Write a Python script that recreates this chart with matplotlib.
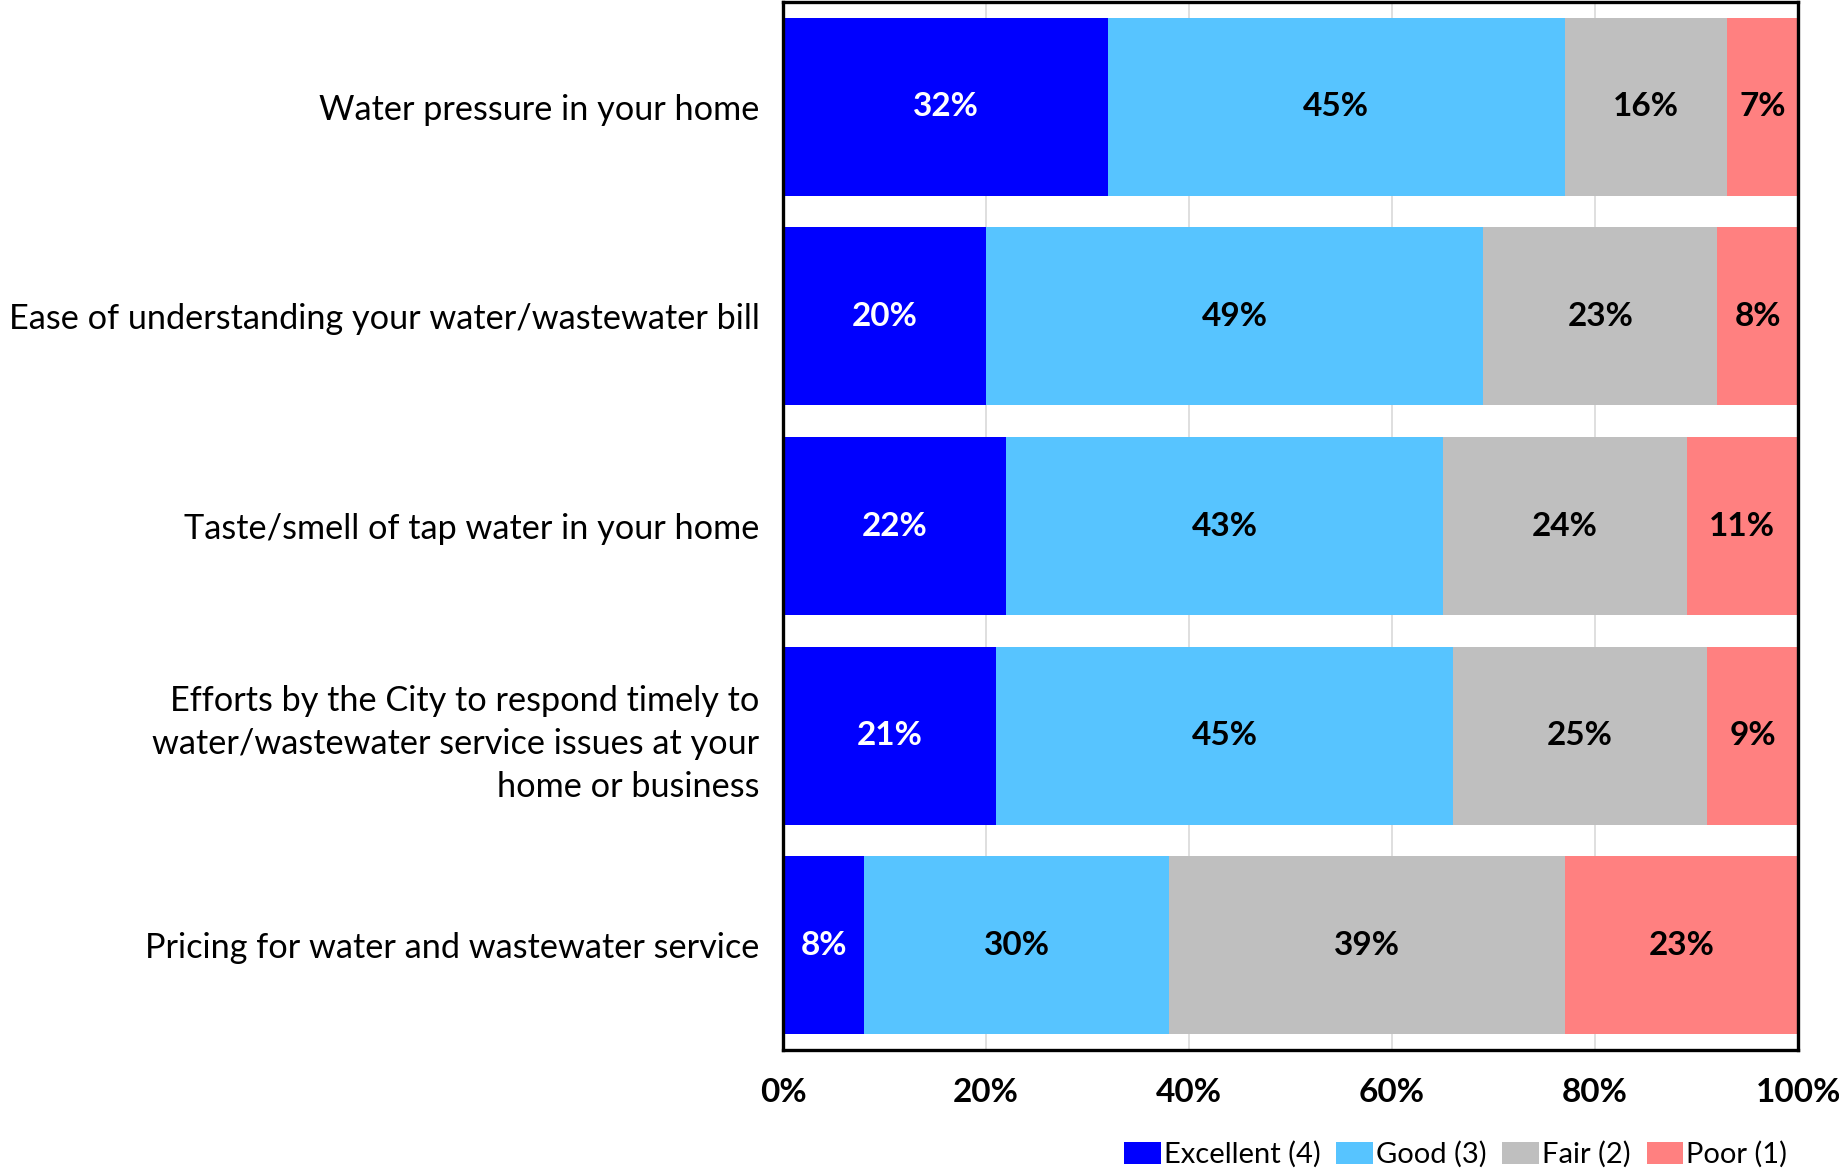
import numpy as np
import matplotlib.pyplot as plt
from matplotlib.patches import Patch

plt.rcParams['font.family'] = ['Lato', 'DejaVu Sans']

# survey items, top to bottom
items = [
    "Water pressure in your home",
    "Ease of understanding your water/wastewater bill",
    "Taste/smell of tap water in your home",
    "Efforts by the City to respond timely to\nwater/wastewater service issues at your\nhome or business",
    "Pricing for water and wastewater service",
]

# percent of respondents per rating
excellent = [32, 20, 22, 21, 8]
good = [45, 49, 43, 45, 30]
fair = [16, 23, 24, 25, 39]
poor = [7, 8, 11, 9, 23]

ratings = ["Excellent (4)", "Good (3)", "Fair (2)", "Poor (1)"]
colors = ["#0000FF", "#57C4FF", "#BFBFBF", "#FF8080"]
text_colors = ["white", "black", "black", "black"]

fig = plt.figure(figsize=(18.39, 11.68), dpi=100)
ax = fig.add_axes([0.4258, 0.101, 0.552, 0.8973])

y = np.arange(len(items))
left = np.zeros(len(items))
for vals, col, tcol in zip([excellent, good, fair, poor], colors, text_colors):
    vals = np.array(vals, dtype=float)
    bars = ax.barh(y, vals, left=left, height=0.85, color=col, zorder=2)
    for b, v in zip(bars, vals):
        ax.text(b.get_x() + b.get_width() / 2, b.get_y() + b.get_height() / 2,
                f"{v:.0f}%", ha="center", va="center", color=tcol,
                fontsize=24, fontweight="bold", zorder=3)
    left += vals

ax.set_xlim(0, 100)
ax.set_ylim(len(items) - 0.5, -0.5)
ax.set_xticks(np.arange(0, 101, 20))
ax.set_xticklabels([f"{t}%" for t in range(0, 101, 20)], fontsize=24, fontweight="bold")
ax.set_yticks(y)
ax.set_yticklabels(items, fontsize=24.7, linespacing=1.42)
ax.tick_params(axis="both", length=0)
ax.tick_params(axis="x", pad=20)
ax.tick_params(axis="y", pad=17)
ax.xaxis.grid(True, color="#D9D9D9", linewidth=1.2, zorder=0)
ax.set_axisbelow(True)
for s in ax.spines.values():
    s.set_linewidth(2.4)
    s.set_color("black")

handles = [Patch(facecolor=c, label=r) for c, r in zip(colors, ratings)]
fig.legend(handles=handles, loc="center right", bbox_to_anchor=(0.978, 0.0115),
           ncol=4, frameon=False, fontsize=21, handlelength=1.25, handleheight=0.8,
           handletextpad=0.1, columnspacing=0.55, borderaxespad=0)

fig.savefig("out.png", dpi=100)
